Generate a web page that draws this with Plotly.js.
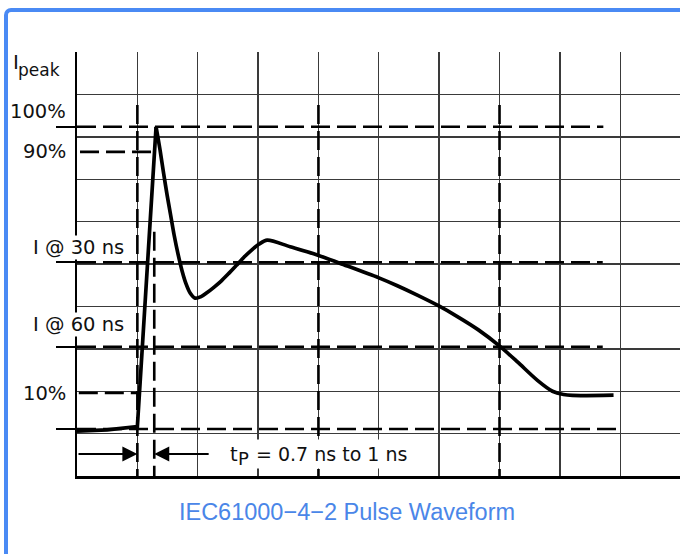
<!DOCTYPE html>
<html><head><meta charset="utf-8">
<script src="https://cdn.plot.ly/plotly-3.0.1.min.js"></script>
<style>
html,body{margin:0;padding:0;background:#fff;overflow:hidden;}
#chart{position:absolute;left:0;top:0;width:680px;height:554px;}
#frame{position:absolute;left:4px;top:8px;width:800px;height:700px;border-left:4px solid #4a8af4;border-top:4px solid #4a8af4;border-top-left-radius:7px;pointer-events:none;}
</style></head><body>
<div id="chart"></div><div id="frame"></div>
<script>
// Time in ns, current in % of I_peak
const waveT = [-10, -5, 0, 0.5, 1.0, 1.5, 2.0, 2.5, 3.1,
  3.76, 4.34, 4.93, 5.51, 6.09, 6.77, 7.41, 8.07, 8.74, 9.57,
  10.56, 11.56, 12.72, 13.88, 15.04, 16.37, 17.69, 19.02, 20.18, 21.51,
  25.32, 29.80, 33.62, 39.92, 43.07, 46.38, 49.87, 53.02, 56.50, 59.98,
  62.97, 66.28, 68.77, 70.60, 72.09, 78.89];
const waveI = [-0.7, -0.3, 0.8, 17, 34, 50, 66, 82, 100,
  92.3, 84.7, 77.4, 70.8, 64.2, 57.6, 52.3, 48.0, 45.0, 43.3,
  43.8, 45.15, 46.97, 48.96, 51.27, 54.08, 56.9, 59.38, 61.2, 62.52,
  60.3, 57.6, 54.8, 50.1, 47.4, 44.3, 40.8, 37.2, 32.8, 27.5,
  22.2, 16.1, 12.5, 11.4, 11.1, 11.2];

const labelNames = ["100%", "90%", "I @ 30 ns", "I @ 60 ns", "10%"];
const labelLevels = [100, 91.7, 55.2, 27.2, 11.9];

const longLevels = [100, 55.2, 27.2, 0];
const longLevelEnds = [77.2, 77.1, 77.1, 80.4];
const shortLevels = [91.7, 11.9];
const shortLevelStarts = [-9.5, -9.7];
const shortLevelEnds = [2.6, 0];

const markerTimes = [0, 2.8, 30, 60];
const markerTops = [107.2, 65.3, 107.2, 107.2];

const tpLevel = -8.3;
const tpArrowFrom = [-10, 12.06];
const tpArrowTo = [0, 2.8];
const tpTextAt = 15.37;
const tpParts = ["t", "P", "= 0.7 ns to 1 ns"];
const chartTitle = "IEC61000\u22124\u22122 Pulse Waveform";

const xRange = [-10, 89.9];
const yRange = [-15.55, 124.75];

const dash = "19px,7px";
const lblFont = {family: "DejaVu Sans", size: 19.5, color: "#111"};

function segs(xs0, xs1, ys0, ys1) {
  const x = [], y = [];
  for (let i = 0; i < xs0.length; i++) {
    x.push(xs0[i], xs1[i], null);
    y.push(ys0[i], ys1[i], null);
  }
  return {x, y};
}

const longSeg = segs(longLevels.map(() => xRange[0]), longLevelEnds, longLevels, longLevels);
const shortSeg = segs(shortLevelStarts, shortLevelEnds, shortLevels, shortLevels);
const vertSeg = segs(markerTimes, markerTimes, markerTops, markerTimes.map(() => yRange[0]));

// split the pulse at its peak: straight rise, smooth decay
const peakIdx = waveI.indexOf(Math.max(...waveI));
const waveLine = {color: "#000", width: 3.7};

const dashLine = {color: "#000", width: 2.6, dash: dash};
const traces = [
  {x: longSeg.x, y: longSeg.y, mode: "lines", line: dashLine, hoverinfo: "skip"},
  {x: shortSeg.x, y: shortSeg.y, mode: "lines", line: dashLine, hoverinfo: "skip"},
  {x: vertSeg.x, y: vertSeg.y, mode: "lines", line: dashLine, hoverinfo: "skip"},
  {x: waveT.slice(0, peakIdx + 1), y: waveI.slice(0, peakIdx + 1), mode: "lines", line: waveLine, hoverinfo: "skip"},
  {x: waveT.slice(peakIdx), y: waveI.slice(peakIdx), mode: "lines",
    line: Object.assign({shape: "spline", smoothing: 0.8}, waveLine), hoverinfo: "skip"}
];

const xShifts = [-10, -10, 48, 48, -10];
const yShifts = [15.2, 0, 14.5, 22.2, 0];
const annotations = labelNames.map((t, i) => ({
  xref: "paper", x: 0, xanchor: "right", xshift: xShifts[i],
  yref: "y", y: labelLevels[i], yanchor: "middle", yshift: yShifts[i],
  text: t, showarrow: false, font: lblFont, bgcolor: "#fff", borderpad: 0
}));
annotations.push({xref: "paper", x: 0, xanchor: "left", xshift: -66, yref: "paper", y: 1, yanchor: "top", yshift: 4,
  text: "I", showarrow: false, font: {family: "DejaVu Sans", size: 20, color: "#111"}});
annotations.push({xref: "paper", x: 0, xanchor: "left", xshift: -61, yref: "paper", y: 1, yanchor: "top", yshift: -6,
  text: "peak", showarrow: false, font: {family: "DejaVu Sans", size: 17, color: "#111"}});

// t_P = 0.7 ns to 1 ns  (t, lowered P, rest on a white box)
const tpXShift = [-1, 6.5, 22];
const tpYShift = [0, -4, 0];
const tpSize = [19.5, 18, 19];
tpParts.forEach((p, i) => annotations.push({
  xref: "x", x: tpTextAt, xanchor: "left", xshift: tpXShift[i], yref: "y", y: tpLevel, yanchor: "middle", yshift: tpYShift[i],
  text: p, showarrow: false, font: {family: "DejaVu Sans", size: tpSize[i], color: "#111"},
  bgcolor: i === 2 ? "#fff" : "rgba(0,0,0,0)", borderpad: i === 2 ? 3 : 0
}));

for (let i = 0; i < tpArrowFrom.length; i++) {
  annotations.push({xref: "x", yref: "y", x: tpArrowTo[i], y: tpLevel, axref: "x", ayref: "y",
    ax: tpArrowFrom[i], ay: tpLevel, text: "", showarrow: true, arrowhead: 2, arrowsize: 1.5,
    arrowwidth: 2, arrowcolor: "#000", standoff: 0});
}

const layout = {
  width: 680, height: 554,
  margin: {l: 77, r: 0, t: 52, b: 78},
  paper_bgcolor: "#fff", plot_bgcolor: "#fff",
  showlegend: false, hovermode: false,
  title: {text: chartTitle, xref: "container", x: 347 / 680, xanchor: "center",
    yref: "container", y: 1 - 512 / 554, yanchor: "middle",
    font: {family: "Liberation Sans, Arial, sans-serif", size: 23.5, color: "#4a86e8"}},
  xaxis: {range: xRange, tick0: -10, dtick: 10, showgrid: true, gridcolor: "#3a3a3a", gridwidth: 1.4,
    zeroline: false, showline: true, linecolor: "#000", linewidth: 2.5, showticklabels: false, ticks: "", fixedrange: true},
  yaxis: {range: yRange, tickmode: "array", tickvals: longLevels, ticks: "outside", ticklen: 19, tickwidth: 2.6, tickcolor: "#000",
    showticklabels: false, showgrid: false, zeroline: false, showline: true, linecolor: "#000", linewidth: 2.5, fixedrange: true,
    minor: {tickmode: "linear", tick0: -1.52, dtick: 14.026, showgrid: true, gridcolor: "#3a3a3a", gridwidth: 1.4, ticks: ""}},
  annotations: annotations
};

Plotly.newPlot("chart", traces, layout, {displayModeBar: false, staticPlot: true});
</script>
</body></html>
